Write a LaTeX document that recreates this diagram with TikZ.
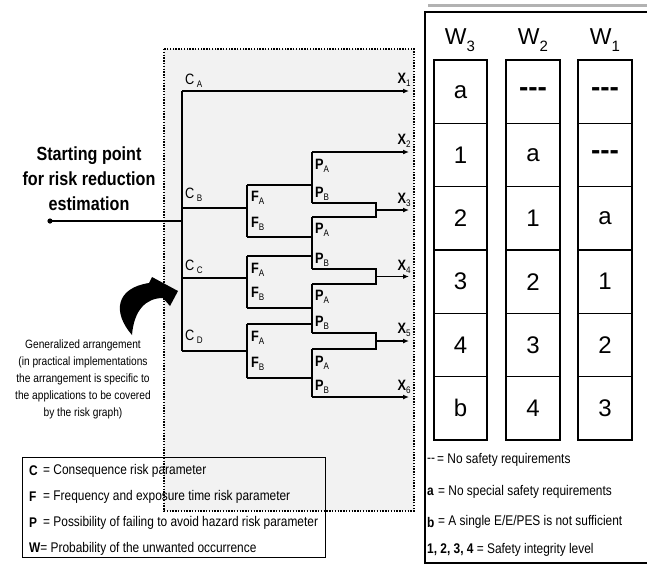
\documentclass[tikz,border=0pt]{standalone}
\usepackage{fontspec}
\setmainfont{Liberation Sans}
\newfontfamily\cnd[FakeStretch=0.85]{Liberation Sans}
\usetikzlibrary{arrows.meta}
\newcommand\lsb[1]{\raisebox{-0.22em}{\fontsize{9.5}{9.5}\selectfont\mdseries #1}}
\newcommand\wsb[1]{\raisebox{-0.3em}{\fontsize{15}{15}\selectfont #1}}
\begin{document}
\begin{tikzpicture}[x=1pt,y=-1pt,
  tree/.style={line width=1.8pt},
  arr/.style={line width=1.8pt,-{Latex[length=6pt,width=5pt]}},
  lbl/.style={font=\cnd\fontsize{15}{15}\selectfont\bfseries,inner sep=0pt,anchor=base west},
  clbl/.style={font=\cnd\fontsize{15}{15}\selectfont,inner sep=0pt,anchor=base west},
  xlbl/.style={font=\cnd\fontsize{15}{15}\selectfont\bfseries,inner sep=0pt,anchor=base},
  cell/.style={draw,line width=1.5pt,minimum width=53pt,minimum height=63.3pt,inner sep=0pt,font=\fontsize{24}{24}\selectfont},
  head/.style={font=\fontsize{23}{23}\selectfont,inner sep=0pt},
  leg/.style={font=\cnd\fontsize{14}{14}\selectfont,inner sep=0pt,anchor=west}]
\useasboundingbox (0,0) rectangle (647,568);
% dotted box
\draw[dash pattern=on 1.4pt off 1.4pt,line width=1.4pt,fill=black!5] (164,49) rectangle (414,511);
% start
\coordinate (start) at (50,221);
\node[font=\cnd\fontsize{19}{25}\selectfont\bfseries,align=center,inner sep=0pt] (sp) at (89,179) {Starting point\\for risk reduction\\estimation};
% trunk
\coordinate (tTop) at (182,91);
\coordinate (tS) at (182,221);
\coordinate (tB) at (182,208);
\coordinate (tC) at (182,278);
\coordinate (tD) at (182,351);
% F blocks
\coordinate (fB) at (247,208); \coordinate (fBa) at (247,185); \coordinate (fBb) at (247,237);
\coordinate (fC) at (247,278); \coordinate (fCa) at (247,256); \coordinate (fCb) at (247,308);
\coordinate (fD) at (247,351); \coordinate (fDa) at (247,324); \coordinate (fDb) at (247,378);
% P blocks
\coordinate (p1a) at (312,152); \coordinate (p1f) at (312,185); \coordinate (p1b) at (312,203);
\coordinate (p2a) at (312,217); \coordinate (p2f) at (312,237); \coordinate (p2g) at (312,256); \coordinate (p2b) at (312,269);
\coordinate (p3a) at (312,284); \coordinate (p3f) at (312,308); \coordinate (p3g) at (312,324); \coordinate (p3b) at (312,333);
\coordinate (p4a) at (312,349); \coordinate (p4f) at (312,378); \coordinate (p4b) at (312,397);
% merges
\coordinate (m1a) at (376,203); \coordinate (m1b) at (376,217); \coordinate (m1) at (376,210);
\coordinate (m2a) at (376,269); \coordinate (m2b) at (376,284); \coordinate (m2) at (376,276.5);
\coordinate (m3a) at (376,333); \coordinate (m3b) at (376,349); \coordinate (m3) at (376,341);
% outputs
\coordinate (x1) at (409,91); \coordinate (x2) at (409,152); \coordinate (x3) at (409,210);
\coordinate (x4) at (409,276.5); \coordinate (x5) at (409,341); \coordinate (x6) at (409,397);
% drawing
\fill (start) circle (2.6);
\draw[tree] (start) -- (tS);
\draw[tree] (tTop) -- (tD);
\draw[arr] (tTop) -- (x1);
\draw[tree] (tB) -- (fB);
\draw[tree] (tC) -- (fC);
\draw[tree] (tD) -- (fD);
\draw[tree] (fBa) -- (fBb);
\draw[tree] (fCa) -- (fCb);
\draw[tree] (fDa) -- (fDb);
\draw[tree] (fBa) -- (p1f);
\draw[tree] (fBb) -- (p2f);
\draw[tree] (fCa) -- (p2g);
\draw[tree] (fCb) -- (p3f);
\draw[tree] (fDa) -- (p3g);
\draw[tree] (fDb) -- (p4f);
\draw[tree] (p1a) -- (p1b);
\draw[tree] (p2a) -- (p2b);
\draw[tree] (p3a) -- (p3b);
\draw[tree] (p4a) -- (p4b);
\draw[arr] (p1a) -- (x2);
\draw[tree] (p1b) -- (m1a) -- (m1b) -- (p2a);
\draw[tree] (p2b) -- (m2a) -- (m2b) -- (p3a);
\draw[tree] (p3b) -- (m3a) -- (m3b) -- (p4a);
\draw[arr] (m1) -- (x3);
\draw[arr] (m2) -- (x4);
\draw[arr] (m3) -- (x5);
\draw[arr] (p4b) -- (x6);
% labels
\node[clbl] (lCA) at (185,84) {C\,\lsb{A}};
\node[clbl] (lCB) at (185,198) {C\,\lsb{B}};
\node[clbl] (lCC) at (185,270) {C\,\lsb{C}};
\node[clbl] (lCD) at (185,340) {C\,\lsb{D}};
\node[lbl] (lF1) at (251,201) {F\lsb{A}};
\node[lbl] (lF2) at (251,227) {F\lsb{B}};
\node[lbl] (lF3) at (251,273) {F\lsb{A}};
\node[lbl] (lF4) at (251,297) {F\lsb{B}};
\node[lbl] (lF5) at (251,341) {F\lsb{A}};
\node[lbl] (lF6) at (251,367) {F\lsb{B}};
\node[lbl] (lP1) at (315,169) {P\lsb{A}};
\node[lbl] (lP2) at (315,197) {P\lsb{B}};
\node[lbl] (lP3) at (315,233) {P\lsb{A}};
\node[lbl] (lP4) at (315,263) {P\lsb{B}};
\node[lbl] (lP5) at (315,300) {P\lsb{A}};
\node[lbl] (lP6) at (315,326) {P\lsb{B}};
\node[lbl] (lP7) at (315,366) {P\lsb{A}};
\node[lbl] (lP8) at (315,390) {P\lsb{B}};
\node[xlbl] (lX1) at (404,83) {X\lsb{1}};
\node[xlbl] (lX2) at (404,144) {X\lsb{2}};
\node[xlbl] (lX3) at (404,203) {X\lsb{3}};
\node[xlbl] (lX4) at (404,270) {X\lsb{4}};
\node[xlbl] (lX5) at (404,333) {X\lsb{5}};
\node[xlbl] (lX6) at (404,390) {X\lsb{6}};
% curved arrow
\fill (132,335) .. controls (112,312) and (116,288) .. (149,283) -- (152,277) -- (178,291) -- (170,306) -- (163,298) .. controls (146,298) and (134,310) .. (132,335) -- cycle;
% generalized text
\node[font=\cnd\fontsize{12}{17}\selectfont,align=center,inner sep=0pt] (gen) at (83,379) {Generalized arrangement\\(in practical implementations\\the arrangement is specific to\\the applications to be covered\\by the risk graph)};
% left legend
\draw[line width=0.8pt] (22,457) rectangle (325,557);
\node[leg] (c1) at (29,471) {\textbf{C}};
\node[leg] (c2) at (43,471) {= Consequence risk parameter};
\node[leg] (f1) at (29,497) {\textbf{F}};
\node[leg] (f2) at (43,497) {= Frequency and exposure time risk parameter};
\node[leg] (pp1) at (29,523) {\textbf{P}};
\node[leg] (pp2) at (43,523) {= Possibility of failing to avoid hazard risk parameter};
\node[leg] (w1) at (29,549) {\textbf{W}= Probability of the unwanted occurrence};
% right table
\draw[line width=3pt,black!30] (428,5) -- (647,5);
\draw[line width=1.5pt] (650,12) -- (425,12) -- (425,563) -- (650,563);
\node[head] (w3) at (460,40) {W\wsb{3}};
\node[head] (w2) at (533,40) {W\wsb{2}};
\node[head] (w1h) at (605,40) {W\wsb{1}};
\foreach \i/\a/\b/\c in {0/a/{\fontsize{28}{28}\selectfont\textbf{-{}-{}-}}/{\fontsize{28}{28}\selectfont\textbf{-{}-{}-}},1/1/a/{\fontsize{28}{28}\selectfont\textbf{-{}-{}-}},2/2/1/a,3/3/2/1,4/4/3/2,5/b/4/3}{
  \node[cell] (ca\i) at (460.5,{60+63.33*(\i+0.5)}) {\a};
  \node[cell,minimum width=54pt] (cb\i) at (533,{60+63.33*(\i+0.5)}) {\b};
  \node[cell,minimum width=54pt] (cc\i) at (605,{60+63.33*(\i+0.5)}) {\c};
}
% right legend
\node[leg] (r1) at (427,460) {-{}-};
\node[leg] (r1b) at (437,460) {= No safety requirements};
\node[leg] (r2) at (427,492) {\textbf{a}};
\node[leg] (r2b) at (438,492) {= No special safety requirements};
\node[leg] (r3) at (427,522) {\textbf{b}};
\node[leg] (r3b) at (438,522) {= A single E/E/PES is not sufficient};
\node[leg] (r4) at (427,550) {\textbf{1, 2, 3, 4} = Safety integrity level};
\end{tikzpicture}
\end{document}
